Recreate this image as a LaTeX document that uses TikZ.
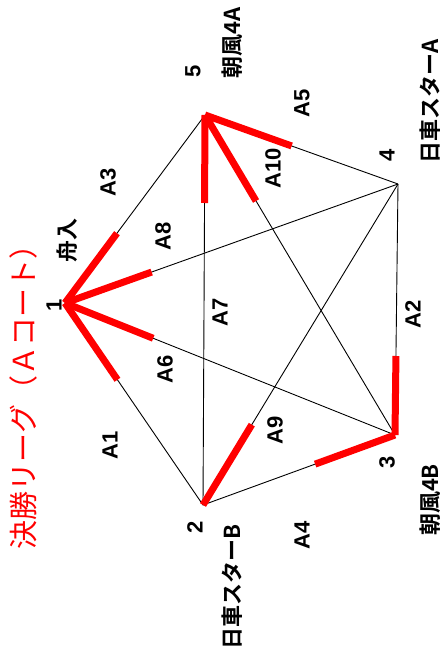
\documentclass[tikz,border=0pt]{standalone}
\usepackage{fontspec}
\setmainfont{Liberation Sans}
\newfontfamily\jpfont{Noto Sans CJK JP}[BoldFont={* Bold}]
\usetikzlibrary{calc}

\begin{document}
\begin{tikzpicture}[x=1pt,y=-1pt,
  edge/.style={black,line width=0.9pt},
  win/.style={red,line width=7pt},
  num/.style={rotate=90,inner sep=0pt,font=\bfseries\fontsize{22}{22}\selectfont},
  team/.style={rotate=90,inner sep=0pt,font=\jpfont\bfseries\fontsize{22}{22}\selectfont}]
 \useasboundingbox (0,0) rectangle (444,659);
 \coordinate (v1) at (65,303);
 \coordinate (v2) at (203,505);
 \coordinate (v3) at (395,435);
 \coordinate (v4) at (398,184);
 \coordinate (v5) at (205,115);
 % every pairing
 \foreach \a/\b in {1/2,1/3,1/4,1/5,2/3,2/4,2/5,3/4,3/5,4/5}
   \draw[edge] (v\a) -- (v\b);
 % winner side in red
 \foreach \a/\b/\l in {1/5/87,1/4/92,1/3/95,1/2/93,5/2/88,5/4/92,5/3/100,3/4/79,3/2/85,2/4/94}
   \draw[win] (v\a) -- ($(v\a)!\l pt!(v\b)$);
 % vertex numbers and teams
 \node[num] (n1) at (54,305) {1};
 \node[num] (n2) at (195,527) {2};
 \node[num] (n3) at (387,462) {3};
 \node[num] (n4) at (387,155) {4};
 \node[num] (n5) at (193,71) {5};
 \node[team] (t1) at (67,240) {舟入};
 \node[team] (t2) at (232,587) {日車スターB};
 \node[team] (t3) at (430,500) {朝風4B};
 \node[team] (t4) at (430,101) {日車スターA};
 \node[team] (t5) at (232,43) {朝風4A};
 % game labels
 \node[num] (a1) at (110,445) {A1};
 \node[num] (a2) at (413,314) {A2};
 \node[num] (a3) at (108,182) {A3};
 \node[num] (a4) at (302,535) {A4};
 \node[num] (a5) at (302,103) {A5};
 \node[num] (a6) at (165,369) {A6};
 \node[num] (a7) at (220,312) {A7};
 \node[num] (a8) at (163,236) {A8};
 \node[num] (a9) at (275,430) {A9};
 \node[num] (a10) at (273,168) {A10};
 \node[rotate=90,inner sep=0pt,red,font=\jpfont\fontsize{29}{29}\selectfont] (title) at (23,390) {決勝リーグ（Ａコート）};
\end{tikzpicture}
\end{document}
